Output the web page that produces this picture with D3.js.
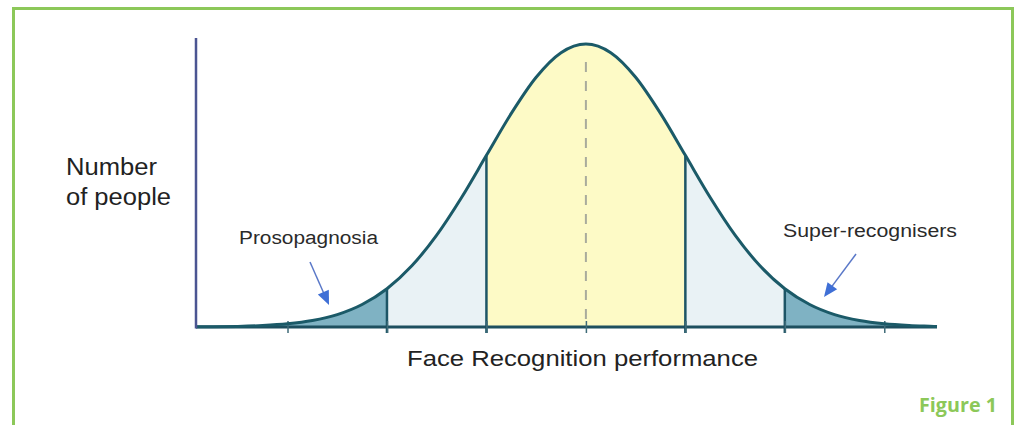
<!DOCTYPE html>
<html><head><meta charset="utf-8">
<script src="https://cdn.jsdelivr.net/npm/d3@7"></script>
<style>html,body{margin:0;padding:0;background:#fff;}svg{display:block;}</style>
</head><body>
<svg id="chart" width="1019" height="425"></svg>
<script>
// z-scores (standard deviations from the mean) and curve heights relative to peak
const zValues   = [-3.92,-3.75,-3.5,-3.25,-3,-2.75,-2.5,-2.25,-2,-1.75,-1.5,-1.25,-1,-0.75,-0.5,-0.25,0,0.25,0.5,0.75,1,1.25,1.5,1.75,2,2.25,2.5,2.75,3,3.25,3.5,3.53];
const heights   = [0.0005,0.0009,0.0022,0.0051,0.0111,0.0228,0.0439,0.0796,0.1353,0.2163,0.3247,0.4578,0.6065,0.7548,0.8825,0.9692,1,0.9692,0.8825,0.7548,0.6065,0.4578,0.3247,0.2163,0.1353,0.0796,0.0439,0.0228,0.0111,0.0051,0.0022,0.0018];
const tickValues = [-3,-2,-1,0,1,2,3];
const bands = [
  {from:-3.92, to:-2, fill:"#7fb2c3"},
  {from:-2, to:-1, fill:"#e9f2f5"},
  {from:-1, to:1, fill:"#fdfac6"},
  {from:1, to:2, fill:"#e9f2f5"},
  {from:2, to:3.53, fill:"#7fb2c3"}
];
const labels = {y1:"Number", y2:"of people", x:"Face Recognition performance", left:"Prosopagnosia", right:"Super-recognisers", fig:"Figure 1"};

const svg = d3.select("#chart");
const x = d3.scaleLinear().domain([-3.92, 3.53]).range([196, 937]);
const y = d3.scaleLinear().domain([0, 1]).range([327, 44]);

const pts = zValues.map((z,i)=>({z, h:heights[i]}));
const interp = (z)=>{
  for (let i=0;i<pts.length-1;i++){
    if (z>=pts[i].z && z<=pts[i+1].z){
      const t=(z-pts[i].z)/(pts[i+1].z-pts[i].z);
      return pts[i].h+(pts[i+1].h-pts[i].h)*t;
    }
  }
  return 0;
};

// frame
svg.append("rect").attr("x",13.5).attr("y",8.5).attr("width",999).attr("height",440)
  .attr("fill","none").attr("stroke","#8cc859").attr("stroke-width",3);

// band fills
const area = d3.area().x(d=>x(d.z)).y0(y(0)).y1(d=>y(d.h)).curve(d3.curveMonotoneX);
const line = d3.line().x(d=>x(d.z)).y(d=>y(d.h)).curve(d3.curveMonotoneX);
const defs = svg.append("defs");
bands.forEach((b,i)=>{
  defs.append("clipPath").attr("id","clip"+i).append("rect")
    .attr("x",x(b.from)).attr("y",0).attr("width",x(b.to)-x(b.from)).attr("height",y(0));
  svg.append("path").datum(pts).attr("d",area).attr("fill",b.fill).attr("clip-path",`url(#clip${i})`);
});

// dashed mean line
svg.append("line").attr("x1",x(0)).attr("x2",x(0)).attr("y1",62).attr("y2",y(0))
  .attr("stroke","#a9ab9c").attr("stroke-width",2).attr("stroke-dasharray","10,9");

// band boundary lines
[-2,-1,1,2].forEach(z=>{
  svg.append("line").attr("x1",x(z)).attr("x2",x(z)).attr("y1",y(interp(z))).attr("y2",y(0)+6)
    .attr("stroke","#1d5566").attr("stroke-width",2.5);
});

// x axis
const xAxis = d3.axisBottom(x).tickValues(tickValues).tickFormat("").tickSizeInner(6).tickSizeOuter(0);
const gx = svg.append("g").attr("transform",`translate(0,${y(0)})`).call(xAxis);
gx.select(".domain").attr("stroke","#1d4f5f").attr("stroke-width",3).attr("d",`M196,0H937`);
gx.selectAll(".tick line").attr("stroke","#3f6b78").attr("stroke-width",1.5).attr("y1",-6);

// curve
svg.append("path").datum(pts).attr("d",line).attr("fill","none")
  .attr("stroke","#1b5a68").attr("stroke-width",3);

// y axis
svg.append("line").attr("x1",196).attr("x2",196).attr("y1",38).attr("y2",y(0)+1.5)
  .attr("stroke","#4b5592").attr("stroke-width",2.5);

// labels
const font = "'Liberation Sans', Arial, sans-serif";
function label(txt,x0,y0,size,len,fill,fam,weight){
  svg.append("text").attr("x",x0).attr("y",y0).text(txt)
    .attr("font-family",fam||font).attr("font-size",size).attr("fill",fill||"#222")
    .attr("font-weight",weight||"normal")
    .attr("textLength",len).attr("lengthAdjust","spacingAndGlyphs");
}
label(labels.y1,66,175,23,91);
label(labels.y2,66,205,23,105);
label(labels.x,407,366,22.5,351);
label(labels.left,239,244,18,139,"#2a2a2a");
label(labels.right,783,237,17.5,174,"#2a2a2a");
label(labels.fig,919,412,19,78,"#8cc859","'Open Sans', 'Noto Sans', sans-serif","bold");

// arrows
function arrow(x1,y1,x2,y2){
  const ang=Math.atan2(y2-y1,x2-x1);
  svg.append("line").attr("x1",x1).attr("y1",y1).attr("x2",x2-Math.cos(ang)*8).attr("y2",y2-Math.sin(ang)*8)
    .attr("stroke","#5a78c8").attr("stroke-width",1.5);
  const L=14,W=6;
  const bx=x2-Math.cos(ang)*L, by=y2-Math.sin(ang)*L;
  const px=-Math.sin(ang)*W, py=Math.cos(ang)*W;
  svg.append("path").attr("d",`M${x2},${y2}L${bx+px},${by+py}L${bx-px},${by-py}Z`).attr("fill","#3f6fd6");
}
arrow(310,262,329,305);
arrow(856,254,824,297);
</script>
</body></html>
